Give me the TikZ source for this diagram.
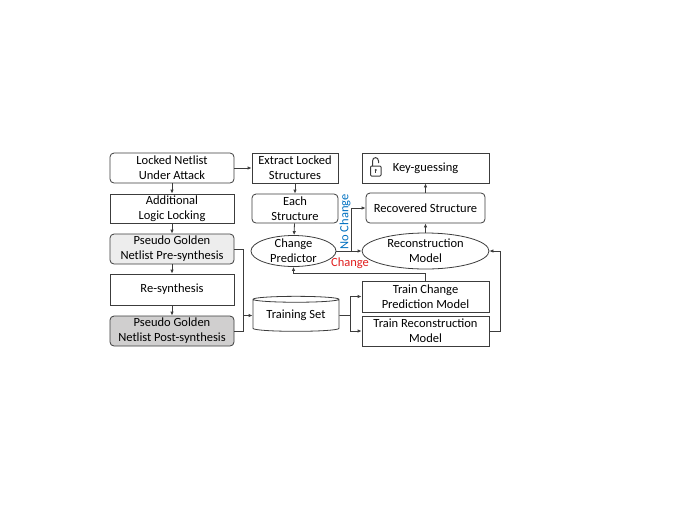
\documentclass[tikz,border=0pt]{standalone}
\usepackage{fontspec}
\setmainfont{Carlito}
\usetikzlibrary{shapes.geometric,arrows.meta}
\definecolor{linegray}{RGB}{60,60,60}
\definecolor{pregray}{RGB}{237,237,237}
\definecolor{postgray}{RGB}{208,207,207}
\definecolor{ncblue}{RGB}{0,112,192}
\definecolor{chred}{RGB}{224,30,30}

\begin{document}
\begin{tikzpicture} [x=1pt, y=-1pt, >={Latex[length=4pt,width=3.5pt]},
		every node/.style={font=\fontsize{12.5}{15}\selectfont, align=center, inner sep=0pt},
		box/.style={draw=linegray, line width=0.8pt, minimum height=30pt},
		rbox/.style={box, rounded corners=4pt},
		oval/.style={draw=linegray, line width=0.8pt, ellipse},
		dbase/.style={draw=linegray, line width=0.8pt, cylinder, shape border rotate=90, aspect=0.1},
		link/.style={draw=linegray, line width=0.8pt}]

		\useasboundingbox (0,0) rectangle (677,523);

		\node[rbox, minimum width=124pt] (locked) at (172,168) {Locked Netlist\\Under Attack};

		\node[box, minimum width=124pt, minimum height=29pt] (addlock) at (172,208.5) {Additional\\Logic Locking};

		\node[rbox, fill=pregray, minimum width=124pt] (pre) at (172,249) {Pseudo Golden\\Netlist Pre-synthesis};

		\node[box, minimum width=124pt, minimum height=31pt] (resyn) at (172,289.5) {Re-synthesis};

		\node[rbox, fill=postgray, minimum width=124pt] (post) at (172,331) {Pseudo Golden\\Netlist Post-synthesis};

		\node[box, minimum width=86pt] (extract) at (295,168) {Extract Locked\\Structures};

		\node[rbox, minimum width=86pt, minimum height=29pt] (each) at (295,208.5) {Each\\Structure};

		\node[oval, minimum width=85pt, minimum height=31pt] (pred) at (293.5,251) {};
		\node (predtext) at (pred) {Change\\Predictor};

		\node[dbase, minimum width=86pt, minimum height=35pt] (train) at (296,315.5) {Training Set};

		\node[box, minimum width=127pt] (key) at (425.5,168) {Key-guessing};

		\node[rbox, minimum width=119pt] (recov) at (425.5,208) {Recovered Structure};

		\node[oval, minimum width=127pt, minimum height=36pt] (recon) at (425.5,251) {};
		\node (recontext) at (recon) {Reconstruction\\Model};

		\node[box, minimum width=127pt, minimum height=31pt] (tcp) at (425.5,296.5) {Train Change\\Prediction Model};

		\node[box, minimum width=127pt] (trm) at (425.5,331) {Train Reconstruction\\Model};

		\node[rotate=90, text=ncblue] (nolabel) at (345,222) {No Change};

		\node[text=chred] (chlabel) at (350,263) {Change};

		\draw[link, line width=1pt, rounded corners=1pt] (370.5,166) rectangle (381,176);
		\draw[link, line width=1pt] (372.5,166) -- (372.5,161) .. controls (372.5,156.5) and (378.5,156.5) .. (378.5,161) -- (378.5,163);
		\fill[linegray] (375.75,170) circle (1.2pt);
		\draw[link, line width=1pt] (375.75,170) -- (375.75,173);

		\coordinate (join) at (243,315.5);
		\coordinate (split) at (351.5,251);
		\coordinate (fork) at (350,315.5);

		\draw[link, ->] (locked) -- (extract);
		\draw[link, ->] (locked) -- (addlock);
		\draw[link, ->] (addlock) -- (pre);
		\draw[link, ->] (pre) -- (resyn);
		\draw[link, ->] (resyn) -- (post);

		\draw[link] (pre.east) -| (join);
		\draw[link] (post.east) -| (join);
		\draw[link, ->] (join) -- (train.west);

		\draw[link, ->] (extract) -- (each);
		\draw[link, ->] (each) -- (pred);
		\draw[link, ->] (pred.east) -- (recon.west);
		\draw[link, ->] (split) |- (recov.west);
		\draw[link, ->] (recon) -- (recov);
		\draw[link, ->] (recov) -- (key);

		\draw[link] (train.east) -- (fork);
		\draw[link, ->] (fork) |- (tcp.west);
		\draw[link, ->] (fork) |- (trm.west);
		\draw[link, ->] (tcp.north) -- ++(0,-7) -| (pred.south);
		\draw[link, ->] (trm.east) -- ++(11,0) |- (recon.east);
	\end{tikzpicture}
\end{document}
